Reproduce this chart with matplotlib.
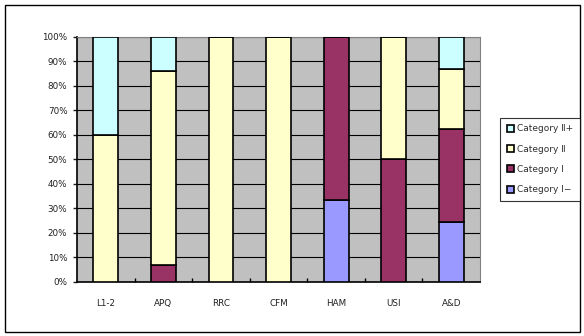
import numpy as np
import matplotlib
matplotlib.use("Agg")
import matplotlib.pyplot as plt
from matplotlib.patches import Rectangle

plt.rcParams["font.family"] = ["DejaVu Sans", "Noto Sans CJK KR"]

# --------------------------------------------------
# Data (percent of each group)
# --------------------------------------------------
groups = ["L1-2", "APQ", "RRC", "CFM", "HAM", "USI", "A&D"]
cat_i_minus = [0, 0, 0, 0, 33.3, 0, 24.5]
cat_i = [0, 6.8, 0, 0, 66.7, 50, 38.1]
cat_ii = [60, 79.2, 100, 100, 0, 50, 24.5]
cat_ii_plus = [40, 14, 0, 0, 0, 0, 12.9]

series = [
    ("Category Ⅰ−", cat_i_minus, "#9999FF"),
    ("Category Ⅰ", cat_i, "#993366"),
    ("Category Ⅱ", cat_ii, "#FFFFCC"),
    ("Category Ⅱ+", cat_ii_plus, "#CCFFFF"),
]

# --------------------------------------------------
# Plot
# --------------------------------------------------
fig = plt.figure(figsize=(5.84, 3.36), dpi=100)
ax = fig.add_axes([0.132, 0.161, 0.690, 0.729])
ax.set_facecolor("#C0C0C0")

x = np.arange(len(groups))
bottom = np.zeros(len(groups))
handles = []
for label, vals, color in series:
    vals = np.array(vals, dtype=float)
    bars = ax.bar(x, vals, width=0.43, bottom=bottom, color=color,
                  edgecolor="black", linewidth=1.2, label=label, zorder=3)
    handles.append(bars)
    bottom += vals

ax.set_xlim(-0.5, len(groups) - 0.5)
ax.set_ylim(0, 100)
ax.set_yticks(np.arange(0, 101, 10))
ax.set_yticklabels([f"{v}%" for v in range(0, 101, 10)])
ax.yaxis.grid(True, color="black", linewidth=0.8, zorder=1)
ax.set_axisbelow(True)

ax.set_xticks(x)
ax.set_xticklabels(groups)
ax.tick_params(axis="x", length=0, pad=12)
ax.set_xticks(np.arange(0.5, len(groups) - 1, 1), minor=True)
ax.tick_params(axis="x", which="minor", direction="in", length=3, width=1)
ax.tick_params(axis="y", length=3, width=1, pad=4)
ax.tick_params(labelsize=6.3, colors="#202020")

for side in ["top", "right"]:
    ax.spines[side].set_color("#808080")
for side in ["left", "bottom"]:
    ax.spines[side].set_color("black")
    ax.spines[side].set_linewidth(1.2)

# legend, top category first
leg = fig.legend(handles[::-1], [s[0] for s in series][::-1],
                 loc="upper left", bbox_to_anchor=(0.849, 0.662),
                 fontsize=6.5, frameon=True, fancybox=False,
                 handlelength=0.8, handleheight=0.8, handletextpad=0.4,
                 labelspacing=1.25, borderpad=0.7, edgecolor="black",
                 labelcolor="#303030")
leg.get_frame().set_linewidth(0.8)

# outer chart border
fig.patches.append(Rectangle((0.009, 0.012), 0.985, 0.973, transform=fig.transFigure,
                             fill=False, edgecolor="black", linewidth=1.0))

fig.savefig("out.png", dpi=100)
